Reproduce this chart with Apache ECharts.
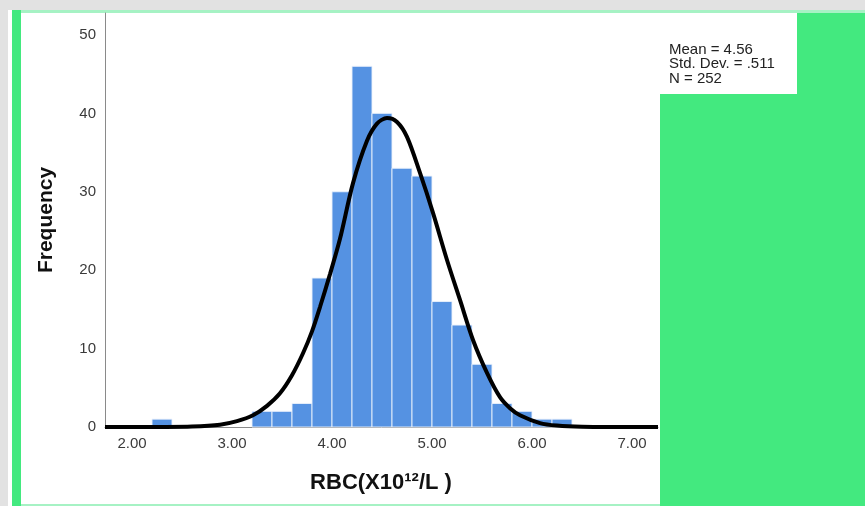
<!DOCTYPE html>
<html>
<head>
<meta charset="utf-8">
<script src="https://cdn.jsdelivr.net/npm/echarts@6/dist/echarts.min.js"></script>
<style>
  html, body { margin: 0; padding: 0; background: #e2e2e2; }
  #chart { width: 865px; height: 506px; }
</style>
</head>
<body>
<div id="chart"></div>
<script>
// ---- data ----
const binLow = [2.2, 2.4, 2.6, 2.8, 3.0, 3.2, 3.4, 3.6, 3.8, 4.0, 4.2, 4.4, 4.6, 4.8, 5.0, 5.2, 5.4, 5.6, 5.8, 6.0, 6.2];
const binHigh = [2.4, 2.6, 2.8, 3.0, 3.2, 3.4, 3.6, 3.8, 4.0, 4.2, 4.4, 4.6, 4.8, 5.0, 5.2, 5.4, 5.6, 5.8, 6.0, 6.2, 6.4];
const counts = [1, 0, 0, 0, 0, 2, 2, 3, 19, 30, 46, 40, 33, 32, 16, 13, 8, 3, 2, 1, 1];
// normal curve (x, frequency)
const curveX = [1.73, 2.3, 2.6, 2.88, 3.05, 3.21, 3.35, 3.48, 3.6, 3.71, 3.8, 3.88, 3.98, 4.08, 4.21, 4.35, 4.45, 4.55, 4.65, 4.75, 4.88, 5.01, 5.15, 5.28, 5.41, 5.55, 5.68, 5.78, 5.88, 6.08, 6.25, 6.5, 6.9, 7.26];
const curveY = [0, 0.01, 0.06, 0.3, 0.75, 1.5, 2.7, 4.3, 6.6, 9.4, 12.2, 15.3, 19.5, 24.0, 31.1, 36.5, 38.7, 39.4, 38.9, 37.0, 32.4, 27.3, 21.3, 16.2, 11.1, 6.9, 3.8, 2.4, 1.5, 0.5, 0.18, 0.03, 0, 0];
const xTicks = [2, 3, 4, 5, 6, 7];
const yTicks = [0, 10, 20, 30, 40, 50];
const statsLines = ['Mean = 4.56', 'Std. Dev. = .511', 'N = 252'];
const xTitle = 'RBC(X10\u00b9\u00b2/L )';
const yTitle = 'Frequency';

const chart = echarts.init(document.getElementById('chart'), null, { renderer: 'canvas' });
const FONT = '"Liberation Sans", Arial, sans-serif';

const histData = binLow.map((lo, i) => [lo, binHigh[i], counts[i]]).filter(d => d[2] > 0);
const curveData = curveX.map((x, i) => [x, curveY[i]]);

chart.setOption({
  animation: false,
  backgroundColor: '#e2e2e2',
  graphic: [
    { type: 'rect', z: -10, shape: { x: 8, y: 10, width: 857, height: 496 }, style: { fill: '#ffffff' }, silent: true },
    { type: 'rect', z: -9, shape: { x: 12, y: 10, width: 853, height: 3 }, style: { fill: '#a6f2c4' }, silent: true },
    { type: 'rect', z: -9, shape: { x: 12, y: 504, width: 853, height: 2 }, style: { fill: '#a6f2c4' }, silent: true },
    { type: 'rect', z: -9, shape: { x: 12, y: 10, width: 9, height: 496 }, style: { fill: '#43e97f' }, silent: true },
    { type: 'rect', z: -9, shape: { x: 660, y: 13, width: 205, height: 493 }, style: { fill: '#43e97f' }, silent: true },
    { type: 'rect', z: -8, shape: { x: 660, y: 13, width: 137, height: 81 }, style: { fill: '#ffffff' }, silent: true },
    { type: 'text', z: 10, x: 669, y: 42, style: { text: statsLines.join('\n'), font: '15px ' + FONT, lineHeight: 14.8, fill: '#222222' } },
    { type: 'text', z: 10, x: 46, y: 220, rotation: Math.PI / 2, style: { text: yTitle, font: 'bold 21px ' + FONT, fill: '#111111', align: 'center', verticalAlign: 'middle' } },
    { type: 'text', z: 10, x: 381, y: 483, style: { text: xTitle, font: 'bold 22px ' + FONT, fill: '#111111', align: 'center', verticalAlign: 'middle' } }
  ],
  grid: { left: 105, right: 207, top: 13, bottom: 79, containLabel: false },
  xAxis: {
    type: 'value', min: 1.73, max: 7.26,
    axisLine: { show: true, onZero: false, lineStyle: { color: '#8a8a8a', width: 1 } },
    axisTick: { show: false },
    splitLine: { show: false },
    axisLabel: { customValues: xTicks, formatter: v => v.toFixed(2), color: '#3a3a3a', fontSize: 15, fontFamily: FONT, margin: 9 }
  },
  yAxis: {
    type: 'value', min: 0, max: 52.8,
    axisLine: { show: true, lineStyle: { color: '#8a8a8a', width: 1 } },
    axisTick: { show: false },
    splitLine: { show: false },
    axisLabel: { customValues: yTicks, color: '#3a3a3a', fontSize: 15, fontFamily: FONT, margin: 9 }
  },
  series: [
    {
      type: 'custom',
      data: histData,
      encode: { x: [0, 1], y: 2 },
      z: 2,
      renderItem: function (params, api) {
        const p0 = api.coord([api.value(0), api.value(2)]);
        const p1 = api.coord([api.value(1), 0]);
        return {
          type: 'rect',
          shape: { x: p0[0], y: p0[1], width: p1[0] - p0[0], height: p1[1] - p0[1] },
          style: { fill: '#5592e2', stroke: 'rgba(235,242,252,0.9)', lineWidth: 1 }
        };
      }
    },
    {
      type: 'line',
      data: curveData,
      z: 5,
      showSymbol: false,
      smooth: 0.3,
      lineStyle: { color: '#000000', width: 4 }
    }
  ]
});
</script>
</body>
</html>
